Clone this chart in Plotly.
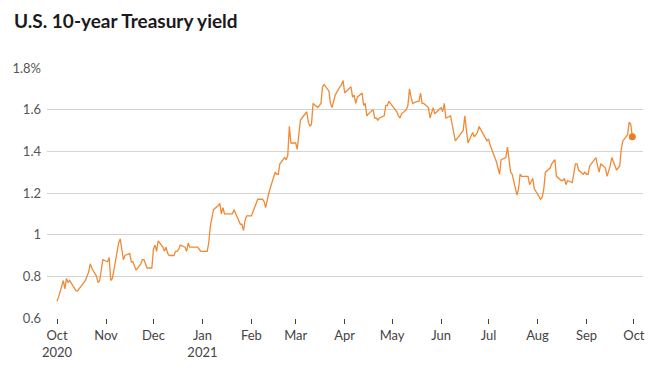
import plotly.graph_objects as go

dates = [
 "2020-10-01","2020-10-02","2020-10-05","2020-10-06","2020-10-07","2020-10-08","2020-10-09","2020-10-13","2020-10-14","2020-10-15","2020-10-16","2020-10-19","2020-10-20","2020-10-21","2020-10-22","2020-10-23","2020-10-26","2020-10-27","2020-10-28","2020-10-29","2020-10-30",
 "2020-11-02","2020-11-03","2020-11-04","2020-11-05","2020-11-06","2020-11-09","2020-11-10","2020-11-12","2020-11-13","2020-11-16","2020-11-17","2020-11-18","2020-11-19","2020-11-20","2020-11-23","2020-11-24","2020-11-25","2020-11-27","2020-11-30",
 "2020-12-01","2020-12-02","2020-12-03","2020-12-04","2020-12-07","2020-12-08","2020-12-09","2020-12-10","2020-12-11","2020-12-14","2020-12-15","2020-12-16","2020-12-17","2020-12-18","2020-12-21","2020-12-22","2020-12-23","2020-12-24","2020-12-28","2020-12-29","2020-12-30","2020-12-31",
 "2021-01-04","2021-01-05","2021-01-06","2021-01-07","2021-01-08","2021-01-11","2021-01-12","2021-01-13","2021-01-14","2021-01-15","2021-01-19","2021-01-20","2021-01-21","2021-01-22","2021-01-25","2021-01-26","2021-01-27","2021-01-28","2021-01-29",
 "2021-02-01","2021-02-02","2021-02-03","2021-02-04","2021-02-05","2021-02-08","2021-02-09","2021-02-10","2021-02-11","2021-02-12","2021-02-16","2021-02-17","2021-02-18","2021-02-19","2021-02-22","2021-02-23","2021-02-24","2021-02-25","2021-02-26",
 "2021-03-01","2021-03-02","2021-03-03","2021-03-04","2021-03-05","2021-03-08","2021-03-09","2021-03-10","2021-03-11","2021-03-12","2021-03-15","2021-03-16","2021-03-17","2021-03-18","2021-03-19","2021-03-22","2021-03-23","2021-03-24","2021-03-25","2021-03-26","2021-03-29","2021-03-30","2021-03-31",
 "2021-04-01","2021-04-05","2021-04-06","2021-04-07","2021-04-08","2021-04-09","2021-04-12","2021-04-13","2021-04-14","2021-04-15","2021-04-16","2021-04-19","2021-04-20","2021-04-21","2021-04-22","2021-04-23","2021-04-26","2021-04-27","2021-04-28","2021-04-29","2021-04-30",
 "2021-05-03","2021-05-04","2021-05-05","2021-05-06","2021-05-07","2021-05-10","2021-05-11","2021-05-12","2021-05-13","2021-05-14","2021-05-17","2021-05-18","2021-05-19","2021-05-20","2021-05-21","2021-05-24","2021-05-25","2021-05-26","2021-05-27","2021-05-28",
 "2021-06-01","2021-06-02","2021-06-03","2021-06-04","2021-06-07","2021-06-08","2021-06-09","2021-06-10","2021-06-11","2021-06-14","2021-06-15","2021-06-16","2021-06-17","2021-06-18","2021-06-21","2021-06-22","2021-06-23","2021-06-24","2021-06-25","2021-06-28","2021-06-29","2021-06-30",
 "2021-07-01","2021-07-02","2021-07-06","2021-07-07","2021-07-08","2021-07-09","2021-07-12","2021-07-13","2021-07-14","2021-07-15","2021-07-16","2021-07-19","2021-07-20","2021-07-21","2021-07-22","2021-07-23","2021-07-26","2021-07-27","2021-07-28","2021-07-29","2021-07-30",
 "2021-08-02","2021-08-03","2021-08-04","2021-08-05","2021-08-06","2021-08-09","2021-08-10","2021-08-11","2021-08-12","2021-08-13","2021-08-16","2021-08-17","2021-08-18","2021-08-19","2021-08-20","2021-08-23","2021-08-24","2021-08-25","2021-08-26","2021-08-27","2021-08-30","2021-08-31",
 "2021-09-01","2021-09-02","2021-09-03","2021-09-07","2021-09-08","2021-09-09","2021-09-10","2021-09-13","2021-09-14","2021-09-15","2021-09-16","2021-09-17","2021-09-20","2021-09-21","2021-09-22","2021-09-23","2021-09-24","2021-09-27","2021-09-28","2021-09-29","2021-09-30",
]
yields = [
 0.68,0.70,0.78,0.74,0.79,0.77,0.78,0.73,0.73,0.74,0.75,0.78,0.80,0.82,0.86,0.84,0.80,0.77,0.78,0.84,0.88,
 0.87,0.89,0.78,0.79,0.83,0.96,0.98,0.88,0.90,0.91,0.87,0.87,0.85,0.83,0.86,0.88,0.88,0.84,0.84,
 0.93,0.95,0.92,0.97,0.94,0.92,0.94,0.91,0.90,0.90,0.92,0.92,0.93,0.95,0.94,0.92,0.96,0.94,0.94,0.94,0.93,0.92,
 0.92,0.96,1.04,1.08,1.12,1.14,1.15,1.10,1.13,1.10,1.10,1.10,1.12,1.10,1.05,1.05,1.02,1.07,1.09,
 1.09,1.11,1.14,1.15,1.17,1.17,1.16,1.13,1.16,1.20,1.30,1.29,1.29,1.34,1.37,1.36,1.38,1.52,1.44,
 1.44,1.41,1.47,1.55,1.56,1.59,1.54,1.52,1.53,1.63,1.61,1.62,1.63,1.71,1.72,1.69,1.63,1.61,1.64,1.67,1.71,1.72,1.74,
 1.68,1.71,1.66,1.67,1.63,1.66,1.68,1.62,1.63,1.57,1.58,1.60,1.56,1.56,1.55,1.56,1.57,1.62,1.62,1.64,1.63,
 1.60,1.59,1.57,1.56,1.58,1.60,1.62,1.70,1.66,1.63,1.64,1.64,1.68,1.63,1.63,1.61,1.56,1.58,1.61,1.58,
 1.61,1.59,1.63,1.56,1.57,1.53,1.49,1.45,1.46,1.49,1.50,1.57,1.51,1.44,1.49,1.47,1.48,1.49,1.52,1.48,1.47,1.45,
 1.46,1.43,1.35,1.32,1.29,1.36,1.37,1.42,1.35,1.30,1.29,1.19,1.22,1.29,1.28,1.28,1.28,1.24,1.26,1.27,1.22,
 1.18,1.17,1.18,1.22,1.30,1.32,1.34,1.35,1.36,1.28,1.26,1.26,1.27,1.24,1.26,1.25,1.29,1.34,1.34,1.31,1.29,1.30,
 1.29,1.29,1.33,1.37,1.33,1.30,1.34,1.32,1.28,1.30,1.33,1.37,1.31,1.32,1.33,1.41,1.45,1.48,1.54,1.53,1.47,
]

tick_dates = ["2020-10-01","2020-11-01","2020-12-01","2021-01-01","2021-02-01","2021-03-01","2021-04-01",
              "2021-05-01","2021-06-01","2021-07-01","2021-08-01","2021-09-01","2021-10-01"]
tick_labels = ["Oct<br>2020","Nov","Dec","Jan<br>2021","Feb","Mar","Apr","May","Jun","Jul","Aug","Sep","Oct"]
y_ticks = [0.6, 0.8, 1.0, 1.2, 1.4, 1.6, 1.8]
y_labels = ["0.6", "0.8", "1", "1.2", "1.4", "1.6", "1.8%"]

color = "#f08a35"
fig = go.Figure()
fig.add_trace(go.Scatter(x=dates, y=yields, mode="lines",
                         line=dict(color=color, width=1.3), hoverinfo="skip"))
fig.add_trace(go.Scatter(x=[dates[-1]], y=[yields[-1]], mode="markers",
                         marker=dict(color="#ef7c22", size=7), hoverinfo="skip"))

# page body adds an 8px margin, so the figure is sized/positioned to compensate
W, H = 645, 364
fig.update_layout(
    width=W, height=H,
    margin=dict(l=39, r=10, t=60, b=54),
    paper_bgcolor="white", plot_bgcolor="white",
    showlegend=False,
    font=dict(family="Lato, Arial, sans-serif", size=13, color="#444"),
    title=dict(text="<b>U.S. 10-year Treasury yield</b>", x=6/W, xanchor="left",
               y=1-13/H, yanchor="middle", yref="container", xref="container",
               font=dict(family="Lato, Arial, sans-serif", size=19, color="#1a1a1a")),
)
fig.update_xaxes(
    type="date", range=["2020-09-24 16:00", "2021-10-06 18:00"],
    tickvals=tick_dates, ticktext=tick_labels,
    showgrid=False, zeroline=False, showline=False,
    ticks="outside", ticklen=5, tickcolor="#444", tickwidth=1,
    tickfont=dict(size=13, color="#444"),
    automargin=False,
)
fig.update_yaxes(
    range=[0.6, 1.8], tickvals=y_ticks, ticktext=y_labels,
    showgrid=True, gridcolor="#d4d4d4", gridwidth=1,
    zeroline=False, showline=False, ticks="",
    ticklabelstandoff=5, automargin=False,
    tickfont=dict(size=13, color="#555"),
)
fig.write_html("out.html")
